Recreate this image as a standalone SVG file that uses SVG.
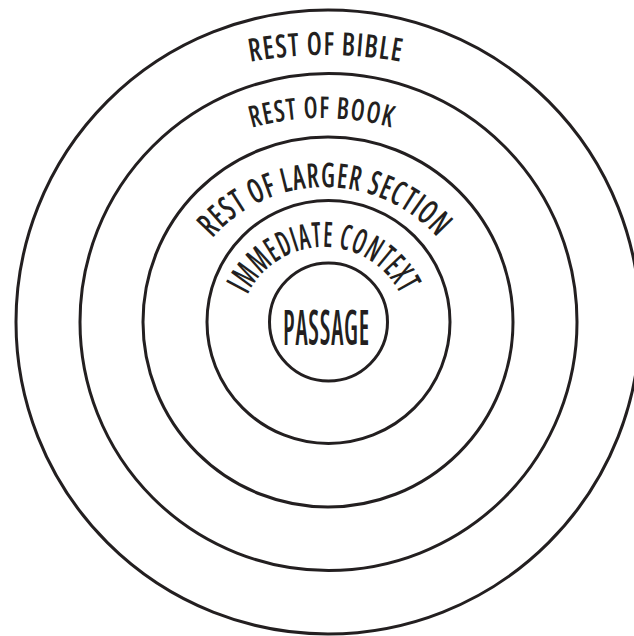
<svg xmlns="http://www.w3.org/2000/svg" width="634" height="636" viewBox="0 0 634 636">
<style>
.ring{fill:none;stroke:#231f20;stroke-width:3}
.lbl{fill:#231f20;font-family:'Open Sans','DejaVu Sans Condensed','Liberation Sans',sans-serif;font-stretch:75%;font-weight:600;letter-spacing:1.5px;text-anchor:middle}
</style>
<defs>
<path id="pBible" d="M116,111.3 A420,420 0 0 1 536,111.3"/>
<path id="pBook" d="M138.2,194.2 A260,260 0 0 1 505.8,194.2"/>
<path id="pLarger" d="M177.3,311 A150,150 0 0 1 472.7,311"/>
<path id="pImm" d="M239.32,324.59 A85,85 0 0 1 408.68,324.59"/>
</defs>
<rect width="634" height="636" fill="#fff"/>
<g id="bible">
<circle class="ring" cx="328" cy="322" r="312"/>
<text class="lbl" font-size="32"><textPath href="#pBible" startOffset="50%" textLength="152" lengthAdjust="spacingAndGlyphs">REST OF BIBLE</textPath></text>
</g>
<g id="book">
<circle class="ring" cx="328.5" cy="322" r="248.5"/>
<text class="lbl" font-size="30"><textPath href="#pBook" startOffset="50%" textLength="142" lengthAdjust="spacingAndGlyphs">REST OF BOOK</textPath></text>
</g>
<g id="larger">
<circle class="ring" cx="328" cy="322" r="185"/>
<text class="lbl" font-size="34"><textPath href="#pLarger" startOffset="50%" textLength="255" lengthAdjust="spacingAndGlyphs">REST OF LARGER SECTION</textPath></text>
</g>
<g id="immediate">
<circle class="ring" cx="328.5" cy="322" r="121.5"/>
<text class="lbl" font-size="35"><textPath href="#pImm" startOffset="50%" textLength="190" lengthAdjust="spacingAndGlyphs">IMMEDIATE CONTEXT</textPath></text>
</g>
<g id="passage">
<circle class="ring" cx="328.5" cy="322" r="59"/>
<text class="lbl" x="326.5" y="345" font-size="49" textLength="87" lengthAdjust="spacingAndGlyphs">PASSAGE</text>
</g>
</svg>
